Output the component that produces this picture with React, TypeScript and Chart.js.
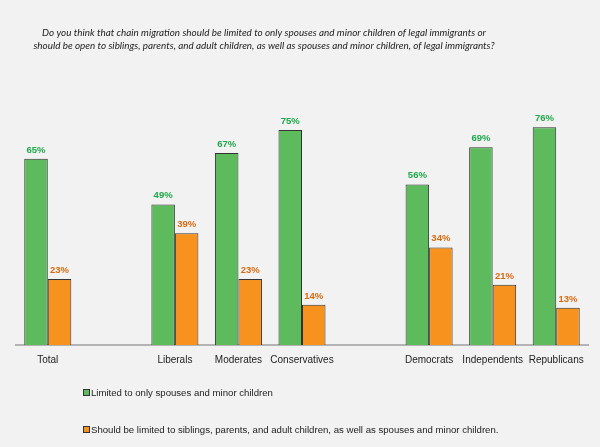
import React, { useEffect, useRef } from "react";
import { Chart, registerables } from "chart.js";

Chart.register(...registerables);

const categories = ["Total", "", "Liberals", "Moderates", "Conservatives", "", "Democrats", "Independents", "Republicans"];
const limitedValues = [65, null, 49, 67, 75, null, 56, 69, 76];
const openValues = [23, null, 39, 23, 14, null, 34, 21, 13];
const seriesNames = [
  "Limited to only spouses and minor children",
  "Should be limited to siblings, parents, and adult children, as well as spouses and minor children.",
];
const titleLines = [
  "Do you think that chain migration should be limited to only spouses and minor children of legal immigrants or",
  "should be open to siblings, parents, and adult children, as well as spouses and minor children, of legal immigrants?",
];

const GREEN = "#5dbb5e";
const ORANGE = "#f8921f";
const GREEN_TXT = "#1ea84a";
const ORANGE_TXT = "#d9690f";

const overlayPlugin = {
  id: "overlay",
  afterDatasetsDraw(chart: any) {
    const ctx = chart.ctx;
    ctx.save();
    // data labels
    chart.data.datasets.forEach((ds: any, di: number) => {
      const meta = chart.getDatasetMeta(di);
      meta.data.forEach((el: any, i: number) => {
        const v = ds.data[i];
        if (v === null || v === undefined) return;
        ctx.font = "bold 9.5px 'Liberation Sans', Arial, sans-serif";
        ctx.fillStyle = di === 0 ? GREEN_TXT : ORANGE_TXT;
        ctx.textAlign = "center";
        ctx.textBaseline = "bottom";
        ctx.fillText(v + "%", el.x, el.y - 4);
      });
    });
    // title
    ctx.font = "italic 9.9px Lato, sans-serif";
    ctx.fillStyle = "#222";
    ctx.textAlign = "center";
    ctx.textBaseline = "middle";
    ctx.fillText(titleLines[0], 264, 32.5);
    ctx.fillText(titleLines[1], 264, 46);
    // legend
    const legendY = [393, 430];
    chart.data.datasets.forEach((ds: any, di: number) => {
      const y = legendY[di];
      ctx.fillStyle = ds.backgroundColor;
      ctx.fillRect(83.5, y - 3.5, 6, 6);
      ctx.strokeStyle = "#333";
      ctx.lineWidth = 1;
      ctx.strokeRect(83.5, y - 3.5, 6, 6);
      ctx.font = "9.6px 'Liberation Sans', Arial, sans-serif";
      ctx.fillStyle = "#222";
      ctx.textAlign = "left";
      ctx.textBaseline = "middle";
      ctx.fillText(ds.label, 91, y);
    });
    ctx.restore();
  },
};

export default function App() {
  const ref = useRef<HTMLCanvasElement | null>(null);
  useEffect(() => {
    document.body.style.margin = "0";
    document.body.style.background = "#f2f2f2";
    const chart = new Chart(ref.current as HTMLCanvasElement, {
      type: "bar",
      data: {
        labels: categories,
        datasets: [
          {
            label: seriesNames[0],
            data: limitedValues,
            backgroundColor: GREEN,
            borderColor: "#333",
            borderWidth: 1,
          },
          {
            label: seriesNames[1],
            data: openValues,
            backgroundColor: ORANGE,
            borderColor: "#333",
            borderWidth: 1,
          },
        ],
      },
      options: {
        animation: false,
        responsive: false,
        maintainAspectRatio: false,
        layout: { padding: { top: 87, left: 16, right: 12, bottom: 0 } },
        plugins: {
          legend: { display: false },
          title: { display: false },
          tooltip: { enabled: false },
        },
        datasets: { bar: { categoryPercentage: 0.74, barPercentage: 1 } },
        scales: {
          x: {
            grid: { display: false },
            border: { display: true, color: "#b4b4b4", width: 2 },
            ticks: {
              autoSkip: false,
              maxRotation: 0,
              padding: 1,
              color: "#222",
              font: { family: "'Liberation Sans', Arial, sans-serif", size: 10 },
            },
            afterFit: (scale: any) => {
              scale.height = 102;
            },
          },
          y: {
            display: false,
            min: 0,
            max: 90,
          },
        },
      },
      plugins: [overlayPlugin],
    });
    return () => chart.destroy();
  }, []);
  return (
    <div style={{ width: 600, height: 447, background: "#f2f2f2" }}>
      <canvas ref={ref} width={600} height={447} style={{ display: "block" }} />
    </div>
  );
}
